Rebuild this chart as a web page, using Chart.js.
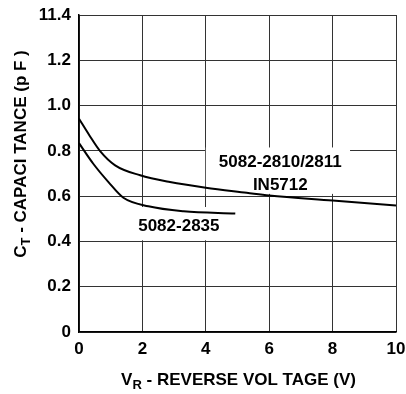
<!DOCTYPE html>
<html>
<head>
<meta charset="utf-8">
<script src="https://cdn.jsdelivr.net/npm/chart.js@4/dist/chart.umd.min.js"></script>
<style>
  html, body { margin: 0; padding: 0; background: #fff; }
  canvas { display: block; }
</style>
</head>
<body>
<canvas id="cap_chart" width="406" height="394"></canvas>
<script>
// curve: 5082-2810/2811, IN5712
const upperV = [0, 0.33, 0.66, 1.14, 1.93, 2.87, 4.0, 5.29, 6, 8, 10];
const upperC = [0.942, 0.868, 0.80, 0.736, 0.692, 0.662, 0.637, 0.615, 0.603, 0.581, 0.559];
// curve: 5082-2835
const lowerV = [0, 0.45, 0.93, 1.40, 2.19, 3.30, 4.93];
const lowerC = [0.834, 0.743, 0.662, 0.593, 0.555, 0.533, 0.523];

const yTickLabels = ["0", "0.2", "0.4", "0.6", "0.8", "1.0", "1.2", "11.4"];
const xTickLabels = ["0", "2", "4", "6", "8", "10"];

const fontFam = '"Liberation Sans", Arial, sans-serif';

function toPoints(xs, ys) {
    let arr = [];
    for (let i = 0; i < xs.length; i++) {
        arr.push({ x: xs[i], y: ys[i] });
    }
    return arr;
}

// white label boxes behind the curve names (data units)
const labelBoxes = [
    { x0: 4.0, x1: 8.55, y0: 0.815, y1: 0.61, lines: ["5082-2810/2811", "IN5712"], cx: 6.35, cy: [0.748, 0.650] },
    { x0: 1.75, x1: 4.6, y0: 0.552, y1: 0.405, lines: ["5082-2835"], cx: 3.15, cy: [0.466] }
];

const labelPlugin = {
    id: "labels",
    beforeDatasetsDraw(chart) {
        const ctx = chart.ctx;
        const xs = chart.scales.x, ys = chart.scales.y;
        ctx.save();
        ctx.fillStyle = "#fff";
        labelBoxes.forEach(function (b) {
            let l = xs.getPixelForValue(b.x0), r = xs.getPixelForValue(b.x1);
            let t = ys.getPixelForValue(b.y0), bt = ys.getPixelForValue(b.y1);
            ctx.fillRect(l, t, r - l, bt - t);
        });
        ctx.restore();
    },
    afterDatasetsDraw(chart) {
        const ctx = chart.ctx;
        const xs = chart.scales.x, ys = chart.scales.y;
        ctx.save();
        ctx.fillStyle = "#000";
        ctx.font = "bold 17px " + fontFam;
        ctx.textAlign = "center";
        ctx.textBaseline = "middle";
        labelBoxes.forEach(function (b) {
            for (let i = 0; i < b.lines.length; i++) {
                ctx.fillText(b.lines[i], xs.getPixelForValue(b.cx), ys.getPixelForValue(b.cy[i]));
            }
        });
        ctx.restore();
    },
    afterDraw(chart) {
        const ctx = chart.ctx;
        const area = chart.chartArea;
        ctx.save();
        ctx.fillStyle = "#000";
        ctx.textBaseline = "alphabetic";
        // x title with subscript R
        drawSubTitle(ctx, "V", "R", " - REVERSE VOL TAGE (V)", (area.left + area.right) / 2 + 1, 385);
        // y title, rotated, subscript T
        ctx.translate(26, 154);
        ctx.rotate(-Math.PI / 2);
        drawSubTitle(ctx, "C", "T", " - CAPACI TANCE (p F )", 0, 0);
        ctx.restore();
    }
};

function drawSubTitle(ctx, main, sub, rest, cx, y) {
    const big = "bold 17px " + fontFam;
    const small = "bold 13px " + fontFam;
    ctx.font = big;
    let w1 = ctx.measureText(main).width;
    let w3 = ctx.measureText(rest).width;
    ctx.font = small;
    let w2 = ctx.measureText(sub).width;
    let x = cx - (w1 + w2 + w3) / 2;
    ctx.textAlign = "left";
    ctx.font = big;
    ctx.fillText(main, x, y);
    ctx.font = small;
    ctx.fillText(sub, x + w1, y + 4);
    ctx.font = big;
    ctx.fillText(rest, x + w1 + w2, y);
}

let ctx = document.getElementById("cap_chart");
let capChart = new Chart(ctx, {
    type: "line",
    plugins: [labelPlugin],
    data: {
        datasets: [{
            label: "5082-2810/2811",
            data: toPoints(upperV, upperC),
            borderColor: "#000",
            borderWidth: 2,
            pointRadius: 0,
            cubicInterpolationMode: "monotone",
            fill: false
        }, {
            label: "5082-2835",
            data: toPoints(lowerV, lowerC),
            borderColor: "#000",
            borderWidth: 2,
            pointRadius: 0,
            cubicInterpolationMode: "monotone",
            fill: false
        }]
    },
    options: {
        responsive: false,
        animation: false,
        devicePixelRatio: 1,
        layout: { padding: { top: 15, right: 10, left: 0, bottom: 0 } },
        plugins: { legend: { display: false }, tooltip: { enabled: false } },
        scales: {
            x: {
                type: "linear",
                min: 0,
                max: 10,
                ticks: {
                    stepSize: 2,
                    padding: 7,
                    color: "#000",
                    maxRotation: 0,
                    font: { family: fontFam, size: 17, weight: "bold" },
                    callback: function (v, i) { return xTickLabels[i]; }
                },
                grid: { color: "#333", lineWidth: 1, drawTicks: false },
                border: { color: "#000", width: 1.5 },
                afterFit: function (s) {
                    s.height = 62;
                    s.paddingLeft = 0;
                    s.paddingRight = 0;
                }
            },
            y: {
                min: 0,
                max: 1.4,
                ticks: {
                    stepSize: 0.2,
                    padding: 8,
                    color: "#000",
                    font: { family: fontFam, size: 17, weight: "bold" },
                    callback: function (v, i) { return yTickLabels[i]; }
                },
                grid: { color: "#333", lineWidth: 1, drawTicks: false },
                border: { color: "#000", width: 1.5 },
                afterFit: function (s) {
                    s.width = 79;
                    s.paddingTop = 0;
                    s.paddingBottom = 0;
                }
            }
        }
    }
});
</script>
</body>
</html>
